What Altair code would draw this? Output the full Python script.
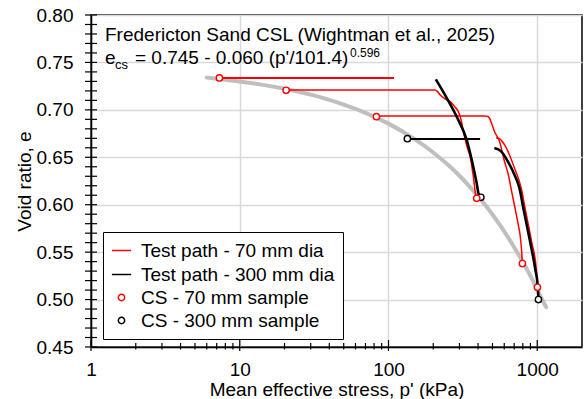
import altair as alt
import pandas as pd

# ---------------- data ----------------
csl_p = [6, 8, 10, 14, 20, 30, 40, 50, 70, 100, 150, 200, 250, 300, 350, 400, 450,
         500, 550, 600, 650, 700, 750, 800, 850, 900, 950, 1000, 1100, 1150]
csl_e = [0.7340, 0.7318, 0.7299, 0.7266, 0.7222, 0.7160, 0.7105, 0.7056, 0.6969,
         0.6855, 0.6692, 0.6551, 0.6423, 0.6305, 0.6194, 0.6090, 0.5992, 0.5897,
         0.5806, 0.5719, 0.5634, 0.5552, 0.5472, 0.5398, 0.5322, 0.5250, 0.5176,
         0.5105, 0.4975, 0.4920]

# 70 mm dia test paths (red)
pA = [7.3, 20, 50, 109]
eA = [0.7337, 0.7337, 0.7337, 0.7337]
pB = [20.5, 60, 150, 205, 213, 222, 240, 260, 280, 295, 308, 319, 336, 354, 372, 388, 392]
eB = [0.7210, 0.7210, 0.7210, 0.7210, 0.7195, 0.7160, 0.7115, 0.7086, 0.7030, 0.6981,
      0.6890, 0.6770, 0.6620, 0.6506, 0.6295, 0.6085, 0.6068]
pC = [83, 150, 300, 413, 445, 465, 477, 495, 515, 557, 602, 640, 675, 710, 745, 767, 785, 795]
eC = [0.6935, 0.6935, 0.6935, 0.6935, 0.6935, 0.6930, 0.6914, 0.6850, 0.6774, 0.6669,
      0.6458, 0.6313, 0.6130, 0.5962, 0.5790, 0.5681, 0.5520, 0.5380]
pD = [529, 557, 602, 650, 703, 780, 829, 917, 984, 1003]
eD = [0.6703, 0.6696, 0.6633, 0.6527, 0.6387, 0.6176, 0.5960, 0.5610, 0.5330, 0.5130]

# 300 mm dia test paths (black)
pF = [208, 247, 291, 336, 363, 388, 409, 418]
eF = [0.7322, 0.7122, 0.6911, 0.6682, 0.6471, 0.6261, 0.6085, 0.6078]
pG = [134, 200, 300, 413]
eG = [0.6693, 0.6693, 0.6693, 0.6693]
pE = [515, 572, 634, 703, 759, 807, 896, 968, 1009, 1019]
eE = [0.6598, 0.6563, 0.6458, 0.6316, 0.6176, 0.5962, 0.5610, 0.5330, 0.5136, 0.4996]

# critical state points
cs70_p = [7.3, 20.5, 83, 392, 795, 1003]
cs70_e = [0.7336, 0.7206, 0.6928, 0.6068, 0.5380, 0.5130]
cs300_p = [134, 418, 1019]
cs300_e = [0.6696, 0.6078, 0.5000]

series = ["Test path - 70 mm dia", "Test path - 300 mm dia",
          "CS - 70 mm sample", "CS - 300 mm sample"]

x_major = [1, 10, 100, 1000]
x_minor = [2, 3, 4, 5, 6, 7, 8, 9, 20, 30, 40, 50, 60, 70, 80, 90,
           200, 300, 400, 500, 600, 700, 800, 900]
y_major = [0.45, 0.50, 0.55, 0.60, 0.65, 0.70, 0.75, 0.80]
y_all = [round(0.45 + 0.01 * i, 2) for i in range(36)]

# ---------------- build tables ----------------
paths = [
    ("A", series[0], 2.0, pA, eA),
    ("B", series[0], 1.5, pB, eB),
    ("C", series[0], 1.5, pC, eC),
    ("D", series[0], 1.5, pD, eD),
    ("G", series[1], 2.0, pG, eG),
    ("F", series[1], 2.6, pF, eF),
    ("E", series[1], 2.6, pE, eE),
]
rows = []
for pid, s, w, ps, es in paths:
    for i, (p, e) in enumerate(zip(ps, es)):
        rows.append({"path": pid, "series": s, "w": w, "i": i, "p": p, "e": e})
df_lines = pd.DataFrame(rows)

df_csl = pd.DataFrame({"p": csl_p, "e": csl_e})
df_cs = pd.DataFrame(
    [{"p": p, "e": e, "series": series[3]} for p, e in zip(cs300_p, cs300_e)]
    + [{"p": p, "e": e, "series": series[2]} for p, e in zip(cs70_p, cs70_e)]
)

# ---------------- chart ----------------
W, H = 491, 332
FONT = "Liberation Sans"

xscale = alt.Scale(type="log", domain=[1, 2000], nice=False)
yscale = alt.Scale(domain=[0.45, 0.80], nice=False, zero=False)

xaxis = alt.Axis(values=x_major, format="d", ticks=False, labelPadding=13,
                 grid=True, gridColor="#d9d9d9", gridWidth=1.5,
                 domainColor="black", domainWidth=1.5,
                 labelFont=FONT, labelFontSize=19, labelColor="black", labelFlush=False,
                 title="Mean effective stress, p' (kPa)", titleFont=FONT, titleFontSize=19,
                 titleFontWeight="normal", titleColor="black", titlePadding=1)
yaxis = alt.Axis(values=y_major, format=".2f", ticks=False, labelPadding=18,
                 grid=True, gridColor="#d9d9d9", gridWidth=1.5,
                 domainColor="black", domainWidth=1.5,
                 labelFont=FONT, labelFontSize=19, labelColor="black", labelFlush=False,
                 title="Void ratio, e", titleFont=FONT, titleFontSize=19,
                 titleFontWeight="normal", titleColor="black", titlePadding=2)

leg = alt.Legend(title=None, orient="none", legendX=12, legendY=217,
                 fillColor="white", strokeColor="black", padding=8,
                 labelFont=FONT, labelFontSize=19, labelColor="black", labelLimit=400,
                 labelOffset=9, rowPadding=3, symbolStrokeWidth=1.5,
                 symbolFillColor="white")

stroke_scale = alt.Scale(type="ordinal", domain=series,
                         range=["#ff0000", "#000000", "#ff0000", "#000000"])
shape_scale = alt.Scale(type="ordinal", domain=series,
                        range=["stroke", "stroke", "circle", "circle"])
size_scale = alt.Scale(type="ordinal", domain=series, range=[370, 370, 40, 40])

X = alt.X("p:Q", scale=xscale, axis=xaxis)
Y = alt.Y("e:Q", scale=yscale, axis=yaxis)

csl = alt.Chart(df_csl).mark_line(
    color="#bfbfbf", strokeWidth=4, strokeCap="round", interpolate="monotone"
).encode(x=X, y=Y)

lines = alt.Chart(df_lines).mark_line(clip=True, interpolate="monotone").encode(
    x=X, y=Y,
    stroke=alt.Stroke("series:N", scale=stroke_scale, legend=leg),
    strokeWidth=alt.StrokeWidth("w:Q", scale=None),
    detail="path:N",
    order="i:Q",
)

points = alt.Chart(df_cs).mark_point(fill="white", fillOpacity=1, opacity=1, strokeWidth=1.4).encode(
    x=X, y=Y,
    stroke=alt.Stroke("series:N", scale=stroke_scale, legend=leg),
    shape=alt.Shape("series:N", scale=shape_scale, legend=leg),
    size=alt.Size("series:N", scale=size_scale, legend=leg),
)

ytick = alt.Chart(pd.DataFrame({"e": y_all})).mark_rule(color="black", strokeWidth=1.2).encode(
    y=Y, x=alt.value(-6), x2=alt.value(6),
)
xtick_major = alt.Chart(pd.DataFrame({"p": x_major})).mark_rule(color="black", strokeWidth=1.2).encode(
    x=X, y=alt.value(H - 7), y2=alt.value(H + 4),
)
xtick_minor = alt.Chart(pd.DataFrame({"p": x_minor})).mark_rule(color="black", strokeWidth=1.2).encode(
    x=X, y=alt.value(H - 4), y2=alt.value(H + 2.5),
)


def label(txt, x, y, size):
    return alt.Chart(pd.DataFrame({"t": [txt]})).mark_text(
        align="left", baseline="alphabetic", font=FONT, fontSize=size, color="black"
    ).encode(text="t:N", x=alt.value(x), y=alt.value(y))


t1 = label("Fredericton Sand CSL (Wightman et al., 2025)", 14, 26, 19)
t2 = label("e", 14, 48.5, 19)
t3 = label("cs", 24, 53.5, 13)
t4 = label("= 0.745 - 0.060 (p'/101.4)", 44, 48.5, 19)
t5 = label("0.596", 259, 42, 12)

chart = alt.layer(
    csl, lines, points, ytick, xtick_major, xtick_minor, t1, t2, t3, t4, t5
).properties(
    width=W, height=H,
    padding={"left": 91, "top": 15, "right": 3, "bottom": 52},
    autosize=alt.AutoSizeParams(type="none"),
).configure_view(stroke="black", strokeWidth=1.5)

chart.save("out.html", embed_options={"renderer": "svg", "actions": False})
